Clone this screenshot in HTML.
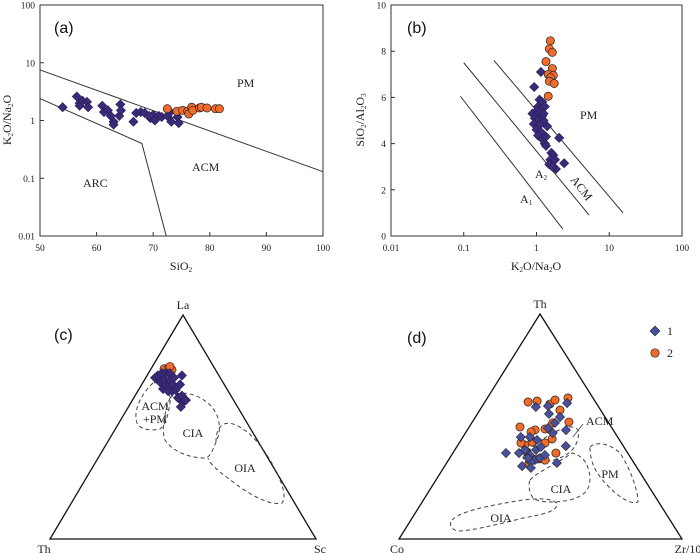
<!DOCTYPE html>
<html><head><meta charset="utf-8"><style>
html,body{margin:0;padding:0;background:#fff;}
svg{display:block;font-family:"Liberation Serif",serif;}
.tk{font-size:9.5px;fill:#222;}
.lb{font-size:12px;fill:#222;}
.pn{font-family:"Liberation Sans",sans-serif;font-size:16px;fill:#111;}
</style></head><body>
<svg id="fig" width="700" height="553" viewBox="0 0 700 553" xmlns="http://www.w3.org/2000/svg">
<g id="pa">
<rect x="40" y="5" width="283" height="231" fill="none" stroke="#333" stroke-width="1"/>
<text x="54" y="33" class="pn">(a)</text>
<text x="237" y="87" class="lb">PM</text>
<text x="192" y="171" class="lb">ACM</text>
<text x="83" y="187" class="lb">ARC</text>
<text x="181" y="270" class="lb" text-anchor="middle">SiO<tspan font-size="7" dy="2">2</tspan></text>
<text transform="translate(11,120) rotate(-90)" class="lb" text-anchor="middle">K<tspan font-size="7" dy="2">2</tspan><tspan dy="-2">O/Na</tspan><tspan font-size="7" dy="2">2</tspan><tspan dy="-2">O</tspan></text>
</g>
<g id="pb">
<rect x="391" y="5" width="291" height="231" fill="none" stroke="#333" stroke-width="1"/>
<text x="407" y="33" class="pn">(b)</text>
<text x="580" y="119" class="lb">PM</text>
<text x="535" y="178" class="lb">A<tspan font-size="7" dy="2">2</tspan></text>
<text x="520" y="203" class="lb">A<tspan font-size="7" dy="2">1</tspan></text>
<text transform="translate(570,180) rotate(52)" class="lb">ACM</text>
<text x="536" y="270" class="lb" text-anchor="middle">K<tspan font-size="7" dy="2">2</tspan><tspan dy="-2">O/Na</tspan><tspan font-size="7" dy="2">2</tspan><tspan dy="-2">O</tspan></text>
<text transform="translate(364,120) rotate(-90)" class="lb" text-anchor="middle">SiO<tspan font-size="7" dy="2">2</tspan><tspan dy="-2">/Al</tspan><tspan font-size="7" dy="2">2</tspan><tspan dy="-2">O</tspan><tspan font-size="7" dy="2">3</tspan></text>
</g>
<g id="pc">
<polygon points="183,315 50,539 316,539" fill="none" stroke="#111" stroke-width="1.3"/>
<text x="183" y="309" class="lb" text-anchor="middle">La</text>
<text x="44" y="553" class="lb" text-anchor="middle">Th</text>
<text x="320" y="553" class="lb" text-anchor="middle">Sc</text>
<text x="54" y="340" class="pn">(c)</text>
<g fill="none" stroke="#444" stroke-dasharray="4,3" stroke-width="1">
<path d="M153,383 C140,395 133,412 137,423 C140,430 152,431 160,429 C166,425 168,415 170,403 C171,395 168,388 160,382 Z"/>
<path d="M170,398 C180,388 200,395 210,405 C220,415 222,430 216,442 C212,452 210,457 205,458 C190,458 173,452 165,440 C161,430 165,410 170,398"/>
<path d="M216,442 C216,430 220,423 230,423 C245,427 258,440 270,460 C280,478 288,495 282,503 C270,506 250,495 233,482 C220,472 210,465 208,458"/>
</g>
<text x="155" y="410" class="lb" text-anchor="middle" font-size="11">ACM</text>
<text x="155" y="423" class="lb" text-anchor="middle" font-size="11">+PM</text>
<text x="193" y="437" class="lb" text-anchor="middle" font-size="11">CIA</text>
<text x="245" y="472" class="lb" text-anchor="middle" font-size="11">OIA</text>
</g>
<g id="pd">
<polygon points="540,314 399,539 682,539" fill="none" stroke="#111" stroke-width="1.3"/>
<text x="540" y="308" class="lb" text-anchor="middle">Th</text>
<text x="397" y="553" class="lb" text-anchor="middle">Co</text>
<text x="688" y="553" class="lb" text-anchor="middle">Zr/10</text>
<text x="407" y="343" class="pn">(d)</text>
<g fill="none" stroke="#444" stroke-dasharray="4,3" stroke-width="1">
<path d="M523,457 C528,450 540,440 553,433 C563,428 573,424 578,430 C580,437 576,447 570,452 C563,458 550,462 537,463 C530,463 523,462 523,457 Z"/>
<path d="M530,480 C537,472 555,465 572,453 C580,455 588,460 590,477 C590,487 588,495 570,500 C555,503 540,503 533,498 C529,492 528,485 530,480 Z"/>
<path d="M590,447 C595,442 608,442 620,453 C630,468 638,490 638,502 C632,505 620,498 610,488 C598,476 590,465 590,447 Z"/>
<path d="M452,520 C460,512 480,507 523,500 C545,497 557,500 557,505 C556,512 540,515 523,518 C500,524 475,530 460,531 C452,531 448,525 452,520 Z"/>
</g>
<line x1="573" y1="437" x2="583" y2="424" stroke="#444" stroke-width="0.8"/>
<text x="586" y="425" class="lb" font-size="11">ACM</text>
<text x="561" y="493" class="lb" text-anchor="middle" font-size="11">CIA</text>
<text x="610" y="478" class="lb" text-anchor="middle" font-size="11">PM</text>
<text x="501" y="522" class="lb" text-anchor="middle" font-size="11">OIA</text>
<g>
<polygon points="655,326 660,331 655,336 650,331" fill="#4a4f9e" stroke="#222" stroke-width="0.6"/>
<text x="667" y="335" class="lb">1</text>
<circle cx="655" cy="353" r="4.2" fill="#f26b2a" stroke="#222" stroke-width="0.7"/>
<text x="667" y="357" class="lb">2</text>
</g>
</g>
</svg>
<script>
// Panel (a) data: SiO2 vs K2O/Na2O
const aSiO2Group1 = [54,56.5,57,57,57.5,58.3,58.5,61,61.3,62,62.5,63,63,64,64.2,64.3,66.5,67,67.8,68.5,69.5,70,70.3,70.6,71,71.5,72.5,73,73.2,74.3,74.5,69.3];
const aRatioGroup1 = [1.7,2.6,2.0,1.8,2.2,2.1,1.7,1.8,1.4,1.5,1.2,0.95,0.85,1.2,1.9,1.5,0.95,1.35,1.4,1.35,1.1,1.25,1.0,1.1,1.2,1.15,1.2,1.4,0.95,1.15,0.9,1.2];
const aSiO2Group2 = [72.5,74.2,75.2,76.1,76.3,76.8,77,78.2,78.5,79.5,81,81.7];
const aRatioGroup2 = [1.6,1.45,1.5,1.45,1.3,1.7,1.5,1.65,1.7,1.65,1.6,1.6];
const aXTicks = [50,60,70,80,90,100];
const aYTicks = [0.01,0.1,1,10,100];
const aYTickLabels = ["0.01","0.1","1","10","100"];
const aUpperLineX = [50,100], aUpperLineY = [7.5,0.13];
const aLowerLineX = [50,68,72.3], aLowerLineY = [2.4,0.4,0.01];
// Panel (b) data: K2O/Na2O vs SiO2/Al2O3
const bRatioGroup1 = [1.15,0.93,1.1,1.2,1.05,1.15,1.0,0.88,1.1,1.2,0.95,1.05,1.25,0.92,1.1,1.4,1.0,1.15,1.05,1.2,1.3,1.35,2.05,1.6,1.7,1.55,1.8,1.5,2.4,1.85,1.65,1.3,1.25,1.35];
const bSiAlGroup1 = [7.1,6.45,5.9,5.8,5.6,5.5,5.4,5.3,5.3,5.2,5.1,5.0,5.0,4.85,4.8,4.75,4.6,4.5,4.35,4.2,4.0,3.9,4.25,3.6,3.5,3.3,3.3,3.1,3.15,2.9,3.0,5.6,5.3,4.3];
const bRatioGroup2 = [1.55,1.5,1.65,1.35,1.65,1.45,1.7,1.55,1.5,1.75,1.45];
const bSiAlGroup2 = [8.45,8.1,7.95,7.55,7.25,7.0,6.95,6.85,6.7,6.6,6.05];
const bXTicks = [0.01,0.1,1,10,100];
const bXTickLabels = ["0.01","0.1","1","10","100"];
const bYTicks = [0,2,4,6,8,10];
const bLinesX = [[0.09,2.3],[0.1,5.3],[0.26,15.5]];
const bLinesY = [[6.05,0.3],[7.5,0.9],[7.6,1.0]];
// Panel (c) ternary: La (top) and Sc (right) fractions
const cLaGroup1 = [.72,.73,.74,.74,.74,.70,.71,.71,.72,.67,.68,.69,.665,.69,.63,.64,.61,.62,.59,.66,.66,.73];
const cScGroup1 = [.035,.04,.05,.066,.08,.064,.077,.096,.106,.09,.10,.117,.14,.144,.166,.176,.195,.201,.197,.129,.114,.131];
const cLaGroup2 = [.76,.76,.755,.72,.70,.69,.77];
const cScGroup2 = [.049,.064,.081,.042,.071,.091,.066];
// Panel (d) ternary: Th (top) and Zr/10 (right) fractions
const dThGroup1 = [.587,.591,.556,.604,.542,.516,.493,.44,.453,.453,.396,.373,.351,.36,.342,.36,.396,.373,.382,.382,.413,.338,.316,.324,.409,.471,.484];
const dZrGroup1 = [.19,.231,.252,.292,.298,.293,.28,.268,.236,.204,.247,.276,.305,.318,.295,.276,.286,.329,.233,.187,.383,.389,.308,.273,.297,.308,.348];
const dThGroup2 = [.60,.604,.591,.609,.618,.564,.511,.507,.48,.476,.467,.489,.422,.409,.418,.418,.436,.378,.373,.347,.342,.329];
const dZrGroup2 = [.156,.186,.238,.247,.288,.287,.345,.29,.276,.243,.233,.183,.259,.24,.222,.307,.323,.263,.368,.317,.345,.295];

const NS = "http://www.w3.org/2000/svg";
function mk(tag, attrs, parent){const e=document.createElementNS(NS,tag);for(const k in attrs)e.setAttribute(k,attrs[k]);parent.appendChild(e);return e;}
// scales
const axA = v => 40 + (v-50)/50*283;
const ayA = v => 236 - (Math.log10(v)+2)/4*231;
const axB = v => 391 + (Math.log10(v)+2)/4*291;
const ayB = v => 236 - v/10*231;
const terC = (t,r) => [50 + 266*(r + t/2), 539 - 224*t];
const terD = (t,r) => [399 + 283*(r + t/2), 539 - 225*t];

function diamond(g,x,y,fill,name){
  const s=4.6;
  const p=mk('polygon',{points:`${x},${y-s} ${x+s},${y} ${x},${y+s} ${x-s},${y}`,fill:fill,stroke:fill==='#3a2a78'?'#2a1d5c':'#222','stroke-width':0.6},g);
  
  
}
function circ(g,x,y,name){
  const c=mk('circle',{cx:x,cy:y,r:4.1,fill:'#f26b2a',stroke:'#222','stroke-width':0.7},g);
  
  
}
function tick(g,x1,y1,x2,y2){mk('line',{x1,y1,x2,y2,stroke:'#333','stroke-width':1},g);}
function txt(g,x,y,s,anchor,name){
  const t=mk('text',{x,y,'text-anchor':anchor,class:'tk'},g); t.textContent=s;
  
  
}

// Panel a
const ga=document.getElementById('pa');
aXTicks.forEach(v=>{const x=axA(v);tick(ga,x,236,x,232);txt(ga,x,251,String(v),'middle','x-tick-a');});
aYTicks.forEach((v,i)=>{const y=ayA(v);tick(ga,40,y,44,y);txt(ga,35,y+3.5,aYTickLabels[i],'end','y-tick-a');});
{const l=mk('polyline',{points:aUpperLineX.map((v,i)=>axA(v)+','+ayA(aUpperLineY[i])).join(' '),fill:'none',stroke:'#333','stroke-width':1},ga);


const l2=mk('polyline',{points:aLowerLineX.map((v,i)=>axA(v)+','+ayA(aLowerLineY[i])).join(' '),fill:'none',stroke:'#333','stroke-width':1},ga);

}
aSiO2Group1.forEach((v,i)=>diamond(ga,axA(v),ayA(aRatioGroup1[i]),'#3a2a78','point-group1'));
aSiO2Group2.forEach((v,i)=>circ(ga,axA(v),ayA(aRatioGroup2[i]),'point-group2'));

// Panel b
const gb=document.getElementById('pb');
bXTicks.forEach((v,i)=>{const x=axB(v);tick(gb,x,236,x,232);txt(gb,x,251,bXTickLabels[i],'middle','x-tick-b');});
bYTicks.forEach(v=>{const y=ayB(v);tick(gb,391,y,395,y);txt(gb,386,y+3.5,String(v),'end','y-tick-b');});
bLinesX.forEach((xs,j)=>{const l=mk('line',{x1:axB(xs[0]),y1:ayB(bLinesY[j][0]),x2:axB(xs[1]),y2:ayB(bLinesY[j][1]),stroke:'#333','stroke-width':1},gb);

});
bRatioGroup1.forEach((v,i)=>diamond(gb,axB(v),ayB(bSiAlGroup1[i]),'#3a2a78','point-group1'));
bRatioGroup2.forEach((v,i)=>circ(gb,axB(v),ayB(bSiAlGroup2[i]),'point-group2'));

// Panel c
const gc=document.getElementById('pc');
cLaGroup2.forEach((t,i)=>{const p=terC(t,cScGroup2[i]);circ(gc,p[0],p[1],'point-group2');});
cLaGroup1.forEach((t,i)=>{const p=terC(t,cScGroup1[i]);diamond(gc,p[0],p[1],'#3a2a78','point-group1');});

// Panel d
const gd=document.getElementById('pd');
dThGroup2.forEach((t,i)=>{const p=terD(t,dZrGroup2[i]);circ(gd,p[0],p[1]-2,'point-group2');});
dThGroup1.forEach((t,i)=>{const p=terD(t,dZrGroup1[i]);diamond(gd,p[0],p[1],'#4a4f9e','point-group1');});
</script>
</body></html>
